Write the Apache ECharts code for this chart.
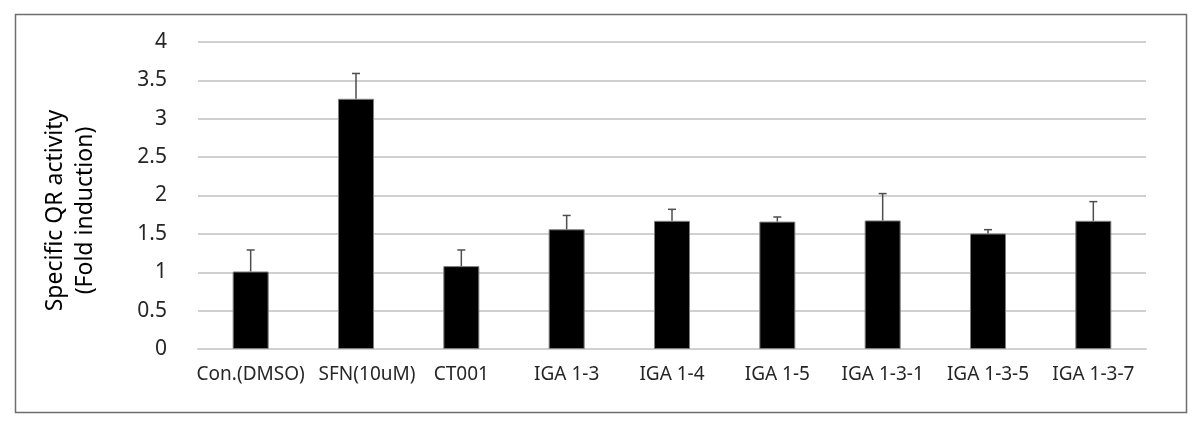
<!DOCTYPE html>
<html><head><meta charset="utf-8">
<script src="https://cdn.jsdelivr.net/npm/echarts@6/dist/echarts.min.js"></script>
<style>html,body{margin:0;padding:0;background:#fff}#c{width:1200px;height:428px}</style>
</head><body><div id="c"></div>
<script>
const categories = ['Con.(DMSO)', 'SFN(10uM)', 'CT001', 'IGA 1-3', 'IGA 1-4', 'IGA 1-5', 'IGA 1-3-1', 'IGA 1-3-5', 'IGA 1-3-7'];
const means = [1.01, 3.26, 1.08, 1.56, 1.67, 1.66, 1.675, 1.505, 1.67];
const errors = [0.28, 0.33, 0.21, 0.18, 0.15, 0.06, 0.35, 0.05, 0.25];
const yTicks = [0, 0.5, 1, 1.5, 2, 2.5, 3, 3.5, 4];

const chart = echarts.init(document.getElementById('c'));
const font = 'Noto Sans';
chart.setOption({
  animation: false,
  backgroundColor: '#fff',
  graphic: [{
    type: 'rect', left: 13, top: 12, silent: true,
    shape: { width: 1171, height: 398 },
    style: { fill: 'none', stroke: '#6e6e6e', lineWidth: 1.5 }
  }],
  grid: { left: 198, right: 54, top: 42, bottom: 79 },
  xAxis: {
    type: 'category',
    data: categories.map((c, i) => i === 1 ? { value: c, textStyle: { padding: [0, 0, 0, 22] } } : c),
    axisTick: { show: false },
    axisLine: { lineStyle: { color: '#d0d0d0', width: 2 } },
    axisLabel: { color: '#262626', fontFamily: font, fontSize: 19, margin: 16, interval: 0 }
  },
  yAxis: {
    type: 'value', min: yTicks[0], max: yTicks[yTicks.length - 1], interval: 0.5,
    name: 'Specific QR activity\n(Fold induction)',
    nameLocation: 'middle', nameGap: 98, nameRotate: 90,
    nameTextStyle: { color: '#000', fontFamily: font, fontSize: 23, lineHeight: 30, padding: [0, 0, 0, -30] },
    axisLine: { show: false }, axisTick: { show: false },
    axisLabel: { color: '#262626', fontFamily: font, fontSize: 21, margin: 31 },
    splitLine: { lineStyle: { color: '#d0d0d0', width: 2 } }
  },
  series: [{
    type: 'bar', data: means, barWidth: 36,
    itemStyle: { color: '#000', borderColor: '#7f7f7f', borderWidth: 1 },
    z: 2
  }, {
    type: 'custom', z: 3,
    data: means.map((m, i) => [i, m, m + errors[i]]),
    renderItem: function (params, api) {
      const p0 = api.coord([api.value(0), api.value(1)]);
      const p1 = api.coord([api.value(0), api.value(2)]);
      const s = { stroke: '#4d4d4d', lineWidth: 1.5 };
      return { type: 'group', children: [
        { type: 'line', shape: { x1: p0[0], y1: p0[1], x2: p1[0], y2: p1[1] }, style: s },
        { type: 'line', shape: { x1: p1[0] - 4, y1: p1[1], x2: p1[0] + 4, y2: p1[1] }, style: s }
      ]};
    }
  }]
});
</script></body></html>
